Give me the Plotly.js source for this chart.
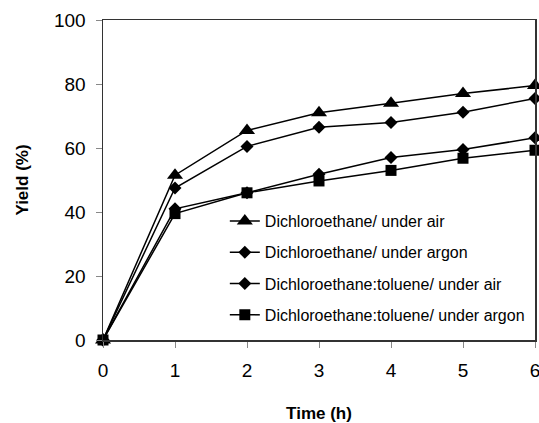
<!DOCTYPE html>
<html>
<head>
<meta charset="utf-8">
<script src="https://cdn.plot.ly/plotly-3.0.1.min.js"></script>
<style>
  html, body { margin: 0; padding: 0; background: #fff; }
  #chart { width: 539px; height: 423px; }
</style>
</head>
<body>
<div id="chart"></div>
<script>
// Reaction time (h)
const timeHours = [0, 1, 2, 3, 4, 5, 6];

// Yield (%) for each solvent / atmosphere condition
const dceAir = [0, 51.5, 65.5, 71, 74, 77, 79.5];
const dceArgon = [0, 47.5, 60.5, 66.5, 68, 71.2, 75.5];
const dceTolAir = [0, 41, 46, 51.8, 57, 59.5, 63.2];
const dceTolArgon = [0, 39.5, 46, 49.7, 53, 56.8, 59.3];

const seriesNames = [
  'Dichloroethane/ under air',
  'Dichloroethane/ under argon',
  'Dichloroethane:toluene/ under air',
  'Dichloroethane:toluene/ under argon'
];

const xTicks = [0, 1, 2, 3, 4, 5, 6];
const yTicks = [0, 20, 40, 60, 80, 100];

const FONT = 'Liberation Sans, Arial, sans-serif';

function series(y, name, symbol, size, group) {
  return {
    x: timeHours,
    y: y,
    name: name,
    legendgroup: group,
    type: 'scatter',
    mode: 'lines+markers',
    cliponaxis: false,
    line: { color: '#000', width: 1.5 },
    marker: { symbol: symbol, size: size, color: '#000' }
  };
}

const traces = [
  series(dceAir, seriesNames[0], 'triangle-up', 14, 'g1'),
  series(dceArgon, seriesNames[1], 'diamond', 10, 'g2'),
  series(dceTolAir, seriesNames[2], 'diamond', 10, 'g3'),
  series(dceTolArgon, seriesNames[3], 'square', 11, 'g4')
];

const layout = {
  width: 539,
  height: 423,
  margin: { l: 103, r: 4, t: 20, b: 83 },
  paper_bgcolor: '#fff',
  plot_bgcolor: '#fff',
  font: { family: FONT, color: '#000', size: 19 },
  showlegend: true,
  legend: {
    x: 0.282, y: 0.425, xanchor: 'left', yanchor: 'top',
    bgcolor: 'rgba(255,255,255,0)',
    borderwidth: 0,
    tracegroupgap: 7.5,
    font: { family: FONT, size: 16, color: '#000' }
  },
  xaxis: {
    range: [0, 6],
    tickvals: xTicks,
    ticktext: xTicks.map(String),
    ticks: 'outside', ticklen: 6, tickcolor: '#888', tickwidth: 1,
    ticklabelstandoff: 7,
    ticklabeloverflow: 'allow',
    showgrid: false, zeroline: false,
    showline: true, linecolor: '#333', linewidth: 1.5, mirror: true,
    tickfont: { family: FONT, size: 19 },
    title: { text: '<b>Time (h)</b>', font: { family: FONT, size: 17 }, standoff: 28 }
  },
  yaxis: {
    range: [0, 100],
    tickvals: yTicks,
    ticktext: yTicks.map(String),
    ticks: 'outside', ticklen: 6, tickcolor: '#888', tickwidth: 1,
    ticklabelstandoff: 6,
    showgrid: false, zeroline: false,
    showline: true, linecolor: '#333', linewidth: 1.5, mirror: true,
    tickfont: { family: FONT, size: 19 },
    title: { text: '<b>Yield (%)</b>', font: { family: FONT, size: 17 }, standoff: 21 }
  }
};

Plotly.newPlot('chart', traces, layout, { displayModeBar: false, staticPlot: true });
</script>
</body>
</html>
